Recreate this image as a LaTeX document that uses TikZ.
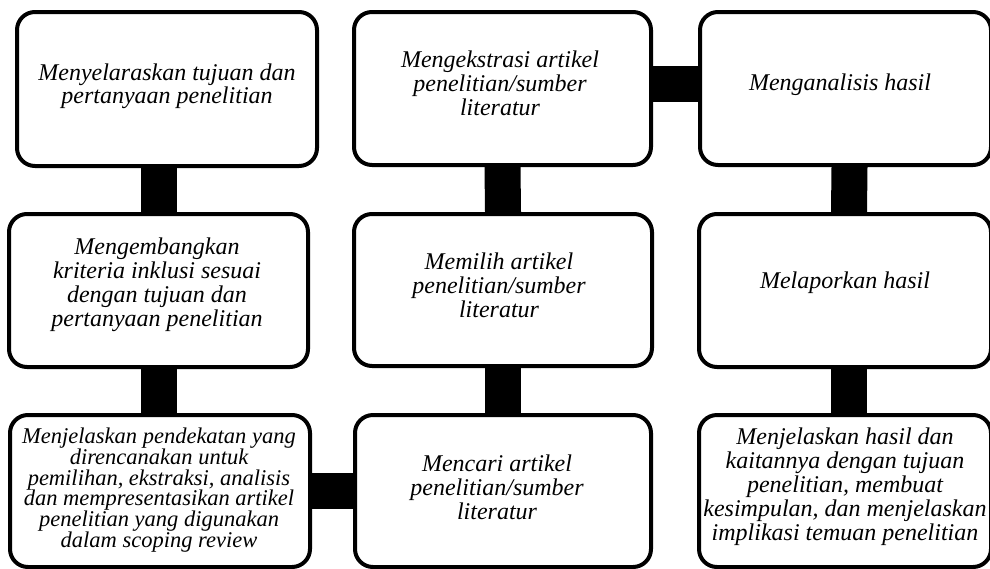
\documentclass[tikz,border=0pt]{standalone}
\usepackage{fontspec}
\setmainfont{Liberation Serif}
\usetikzlibrary{backgrounds}
\begin{document}
\begin{tikzpicture}[x=1pt,y=-1pt,
  box/.style={draw=black, line width=4pt, rounded corners=18pt, fill=white, inner sep=0pt},
  txt/.style={align=center, font=\fontsize{24}{24}\selectfont\itshape, inner sep=0pt},
  conn/.style={line width=36pt, draw=black}]
\useasboundingbox (0,0) rectangle (990,568);
\clip (0,0) rectangle (990,568);
% boxes
\node[box, minimum width=300pt, minimum height=154pt] (r1c1) at (167,89) {};
\node[box, minimum width=299pt, minimum height=153pt] (r2c1) at (158.5,290.5) {};
\node[box, minimum width=300pt, minimum height=152pt] (r3c1) at (160,491) {};
\node[box, minimum width=297pt, minimum height=153pt] (r1c2) at (502.5,88.5) {};
\node[box, minimum width=298pt, minimum height=152pt] (r2c2) at (503,290) {};
\node[box, minimum width=296pt, minimum height=152pt] (r3c2) at (503,491) {};
\node[box, minimum width=291pt, minimum height=153pt] (r1c3) at (845.5,88.5) {};
\node[box, minimum width=292pt, minimum height=153pt] (r2c3) at (845,290.5) {};
\node[box, minimum width=292pt, minimum height=152pt] (r3c3) at (845,491) {};
% connectors
\begin{scope}[on background layer]
\draw[conn] (r2c1.north |- r1c1.south) -- (r2c1.north);
\draw[conn] (r2c1.south) -- (r2c1.south |- r3c1.north);
\draw[conn] (r1c2.south) -- (r2c2.north);
\draw[conn] (r2c2.south) -- (r3c2.north);
\draw[conn] ([xshift=4pt]r1c3.south) -- ([xshift=4pt]r2c3.north);
\draw[conn] ([xshift=4pt]r2c3.south) -- ([xshift=4pt]r3c3.north);
\draw[conn] ([yshift=5pt]r1c2.east) -- ([yshift=5pt]r1c3.west);
\draw[conn] (r3c1.east) -- (r3c2.west);
\end{scope}
% texts
\node[txt, font=\fontsize{24}{23}\selectfont\itshape] (t11) at (167,86) {Menyelaraskan tujuan dan\\pertanyaan penelitian};
\node[txt] (t12) at (500,83) {Mengekstrasi artikel\\penelitian/sumber\\literatur};
\node[txt] (t13) at (840,85) {Menganalisis hasil};
\node[txt] (t21) at (157,285) {Mengembangkan\\kriteria inklusi sesuai\\dengan tujuan dan\\pertanyaan penelitian};
\node[txt] (t22) at (499,285) {Memilih artikel\\penelitian/sumber\\literatur};
\node[txt] (t23) at (845,283) {Melaporkan hasil};
\node[txt, font=\fontsize{22.5}{20.8}\selectfont\itshape] (t31) at (159,490) {Menjelaskan pendekatan yang\\direncanakan untuk\\pemilihan, ekstraksi, analisis\\dan mempresentasikan artikel\\penelitian yang digunakan\\dalam scoping review};
\node[txt] (t32) at (497,487) {Mencari artikel\\penelitian/sumber\\literatur};
\node[txt] (t33) at (845,487) {Menjelaskan hasil dan\\kaitannya dengan tujuan\\penelitian, membuat\\kesimpulan, dan menjelaskan\\implikasi temuan penelitian};
\end{tikzpicture}
\end{document}
